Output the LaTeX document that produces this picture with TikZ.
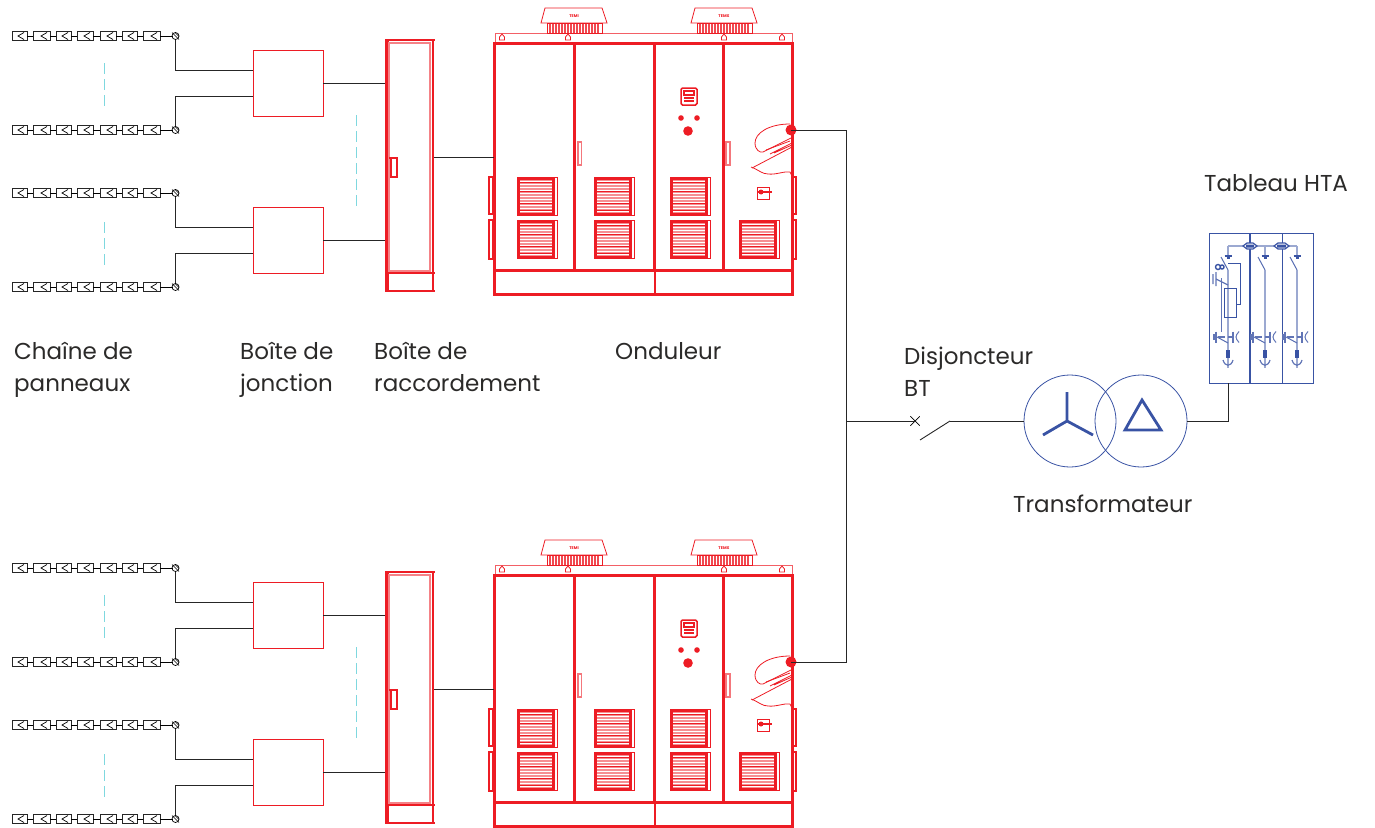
\documentclass[tikz,border=0pt]{standalone}
\usepackage{fontspec}
\setmainfont{Poppins}
\usepackage{xcolor}
\usetikzlibrary{calc}
\definecolor{PVred}{HTML}{ED1C24}
\definecolor{PVblue}{HTML}{3953A4}
\definecolor{PVcyan}{HTML}{7FD8DF}
\definecolor{PVtext}{HTML}{2B2A29}

\tikzset{
  wire/.style={draw=black!85, line width=0.9pt},
  redthin/.style={draw=PVred, line width=0.8pt},
  redmid/.style={draw=PVred, line width=1.5pt},
  redthick/.style={draw=PVred, line width=3pt},
  bluefeed/.style={draw=PVblue!50, line width=2pt},
  bluethick/.style={draw=PVblue, line width=2.8pt},
  dashcut/.style={draw=PVcyan, line width=1pt, dash pattern=on 11pt off 5pt},
  junctionbox/.style={rectangle, draw=PVred, line width=0.8pt, minimum width=70pt, minimum height=66pt, inner sep=0pt},
  txt/.style={font=\fontsize{23}{32}\selectfont, text=PVtext, align=left, anchor=north west, inner sep=0pt},
  panelstring/.pic={
    \foreach \px/\pw in {0/15,21/17,44/15,65/16,88/16,110/15,131/17}{
      \draw[black!85, line width=0.9pt] (\px,-4.5) rectangle ++(\pw,9);
      \draw[black, line width=0.7pt] (\px+\pw-3,-3.5) -- (\px+\pw-9,0) -- (\px+\pw-3,3.5);
    }
    \foreach \px/\qx in {15/21,38/44,59/65,81/88,104/110,125/131,148/161}{
      \draw[black, line width=0.8pt] (\px,0) -- (\qx,0);
    }
    \node[circle, draw=black, line width=0.7pt, minimum size=7pt, inner sep=0pt] (-out) at (163.5,0) {};
    \draw[black, line width=0.6pt] (160,-3.5) -- (167,3.5) (163,-3.5) -- (167,0.5);
  },
  grille/.pic={
    \foreach \gy in {3,6,...,36}{
      \draw[PVred!50, line width=1.2pt] (3,\gy) -- (36,\gy);
    }
    \foreach \gy in {5,14,26,33}{
      \draw[PVred, line width=0.7pt] (3,\gy) -- (36,\gy);
    }
    \draw[PVred, line width=3pt] (1,1) rectangle (36,37);
    \draw[redthin, line width=1pt] (36,0) -- (40,0) -- (40,38) -- (36,38);
  },
  fan/.pic={
    \draw[redthin] (3,0) -- (60,0) -- (65,15) -- (-1,15) -- cycle;
    \node[font=\fontsize{4}{4}\selectfont\bfseries, text=PVred, inner sep=0pt] (-tag) at (32,8) {#1};
    \draw[redthin] (5,15) rectangle (60,25);
    \foreach \fx in {8,11,...,58}{
      \draw[PVred!80, line width=1.1pt] (\fx,16) -- (\fx,25);
    }
  },
  hook/.pic={
    \draw[PVred, line width=0.8pt] (0,0) -- (2.5,-3) -- (5,0) -- (5,3) -- (0,3) -- cycle;
  },
  inverter/.pic={
    \draw[PVred!70, line width=1pt] (1,33) rectangle (298,43);
    \pic at (5.5,37) {hook};
    \pic at (71.5,37) {hook};
    \pic at (227.5,37) {hook};
    \pic at (285.5,37) {hook};
    \pic (-fana) at (48,8) {fan={TEMI}};
    \pic (-fanb) at (198,8) {fan={TEMX}};
    \draw[redthick] (0,43) rectangle (298,270);
    \foreach \dx in {80,160,229}{
      \draw[redthick] (\dx,43) -- (\dx,270);
    }
    \draw[redthick] (0,270) rectangle (298,294);
    \draw[redmid] (161,270) -- (161,294);
    \foreach \gx in {23,100,176}{
      \pic at (\gx,177) {grille};
      \pic at (\gx,220) {grille};
    }
    \pic at (245,220) {grille};
    \foreach \hx in {-5,298}{
      \draw[PVred, line width=2pt] (\hx,177) rectangle ++(4,37);
      \draw[PVred, line width=2pt] (\hx,220) rectangle ++(4,39);
    }
    \draw[PVred!60, line width=1.2pt] (84,142) rectangle ++(3.5,23);
    \draw[PVred!60, line width=1.2pt] (232,142) rectangle ++(4,23);
    % control panel
    \draw[redmid, rounded corners=1.5pt] (187,88) rectangle ++(16,17);
    \draw[redmid] (190,91) rectangle (200,95);
    \draw[PVred, line width=1.3pt] (190,98) -- (200,98) (190,101) -- (200,101);
    \fill[PVred] (187,118) circle (2.8pt) (203,118) circle (2.8pt) (194,131) circle (4.8pt);
    % cable entry
    \draw[redthin] (296,124) .. controls (275,124) and (261,133) .. (261,143)
      .. controls (261,150) and (266,153) .. (269,152) -- (297,138);
    \draw[redthin] (272,150) -- (296,141) (276,154) -- (298,143) (280,153) -- (298,145);
    \draw[redthin] (258,168) -- (298,147);
    \draw[redthin] (257,167) .. controls (265,170) and (268,174) .. (274,174)
      .. controls (282,175) and (290,171) .. (296,172) -- (298,176);
    \draw[redthin] (263,187) rectangle ++(12,12);
    \draw[PVred, line width=1.6pt] (264,192) -- (278,192);
    \fill[PVred] (267,192) circle (2.5pt);
    \node[circle, fill=PVred, minimum size=11pt, inner sep=0pt] (-ac) at (297,130) {};
    \coordinate (-dc) at (0,157);
  },
  field/.pic={
    \pic (-s1) at (12,36) {panelstring};
    \pic (-s2) at (12,130) {panelstring};
    \pic (-s3) at (12,193) {panelstring};
    \pic (-s4) at (12,287) {panelstring};
    \draw[dashcut] (104,63) -- (104,108);
    \draw[dashcut] (104,222) -- (104,266);
    \draw[dashcut] (356,115) -- (356,208);
    \node[junctionbox] (-j1) at (288,83) {};
    \node[junctionbox] (-j2) at (288,240) {};
    \draw[wire] (-s1-out.south) |- ([yshift=13pt]-j1.west);
    \draw[wire] (-s2-out.north) |- ([yshift=-13pt]-j1.west);
    \draw[wire] (-s3-out.south) |- ([yshift=13pt]-j2.west);
    \draw[wire] (-s4-out.north) |- ([yshift=-13pt]-j2.west);
    % connection box
    \node[rectangle, draw=PVred, line width=2pt, minimum width=47pt, minimum height=251pt, inner sep=0pt] (-rb) at (409.5,165.5) {};
    \draw[PVred, line width=3.5pt] (387,40) -- (387,291);
    \draw[PVred!55, line width=1.2pt] (389,43) rectangle (430,271);
    \draw[redmid] (386,273) -- (435,273) (433,291) -- (435,291) (433,40) -- (435,40);
    \draw[PVred, line width=2pt] (391,158) rectangle ++(6,19);
    \draw[PVred, line width=1.6pt] (389,158) -- (398,158);
    \draw[wire] (-j1.east) -- (-j1.east -| -rb.west);
    \draw[wire] (-j2.east) -- (-j2.east -| -rb.west);
    \pic (-inv) at (494,0) {inverter};
    \draw[wire] (-rb.east |- -inv-dc) -- (-inv-dc);
  },
  feeder/.pic={
    \draw[bluefeed] (0,0) -- (0,9);
    \draw[PVblue, line width=1.2pt] (-3.5,10) -- (3.5,10) (-1.5,12) -- (1.5,12);
    \draw[PVblue!85, line width=1pt] (-7,11) -- (0,24);
    \draw[bluefeed] (0,24) -- (0,122);
    \draw[PVblue!85, line width=1pt] (-11,91) -- (0,97);
    \draw[PVblue!80, line width=1.3pt] (-12,85.5) -- (-12,96.5) (-14,88) -- (-14,94) (-10,91) -- (-3,91);
    \draw[PVblue!80, line width=1.3pt] (0,91) -- (5,91) (5,85.5) -- (5,96.5);
    \draw[PVblue!80, line width=1pt] (11,85.5) .. controls (7,90) and (7,92) .. (11,96.5);
    \draw[PVblue, line width=4.5pt] (0,104) -- (0,112);
    \draw[PVblue!80, line width=1.2pt] (-5,114) .. controls (-3,121) and (3,121) .. (5,114);
  },
}

\begin{document}
\begin{tikzpicture}[x=1pt,y=-1pt]
  \useasboundingbox (0,0) rectangle (1375,827);

  \pic (fa) at (0,0) {field};
  \pic (fb) at (0,532) {field};
  \draw[redthick] (654,575) rectangle (723,802);

  \node[txt] (lblstring) at (14,342) {Chaîne de\\panneaux};
  \node[txt] (lbljunction) at (240,342) {Boîte de\\jonction};
  \node[txt] (lblbox) at (374,342) {Boîte de\\raccordement};
  \node[txt] (lblinv) at (615,342) {Onduleur};
  \node[txt] (lblbreaker) at (904,347) {Disjoncteur\\BT};
  \node[txt] (lbltrans) at (1013,495) {Transformateur};
  \node[txt] (lblhta) at (1204,174) {Tableau HTA};

  % LV side
  \coordinate (bus) at (846,421);
  \draw[wire] (fa-inv-ac.center) -| (bus);
  \draw[wire] (fb-inv-ac.center) -| (bus);
  \node[inner sep=0pt, minimum size=9pt] (brk) at (915,421) {};
  \draw[black, line width=0.7pt] (brk.north west) -- (brk.south east) (brk.north east) -- (brk.south west);
  \draw[wire] (bus) -- (brk.center);
  \coordinate (swa) at (920,440);
  \coordinate (swb) at (950,421);
  \draw[wire] (swa) -- (swb);

  % transformer
  \node[circle, draw=PVblue, line width=0.8pt, minimum size=92pt, inner sep=0pt] (tra) at (1070,421) {};
  \node[circle, draw=PVblue, line width=0.8pt, minimum size=92pt, inner sep=0pt] (trb) at (1141,421) {};
  \draw[wire] (swb) -- (tra.west);
  \draw[bluethick] (1067,392) -- (1067,421) (1067,421) -- (1043,435) (1067,421) -- (1093,435);
  \draw[bluethick] (1142,400) -- (1161,430) -- (1125,430) -- cycle;

  % HTA switchboard
  \node[rectangle, draw=PVblue, line width=0.9pt, minimum width=104pt, minimum height=150pt, inner sep=0pt] (hta) at (1261,308) {};
  \draw[PVblue, line width=1.6pt] (1250,233) -- (1250,383);
  \draw[PVblue, line width=0.9pt] (1282,233) -- (1282,383);
  \draw[wire] (trb.east) -| (1228,383);
  \draw[bluefeed] (1228,246) -- (1297,246);
  \pic at (1228,246) {feeder};
  \pic at (1265,246) {feeder};
  \pic at (1297,246) {feeder};
  \draw[PVblue, line width=1.2pt, fill=white] (1243,246) -- (1247,243) -- (1253,243) -- (1257,246) -- (1253,249) -- (1247,249) -- cycle;
  \draw[PVblue, line width=1.2pt, fill=white] (1274,246) -- (1278,243) -- (1285,243) -- (1289,246) -- (1285,249) -- (1278,249) -- cycle;
  \fill[PVblue] (1246,244.5) rectangle (1254,247.5) (1277,244.5) rectangle (1286,247.5);
  \draw[PVblue, line width=1pt] (1228,263) -- (1240,263) -- (1240,304) -- (1236,304);
  \draw[PVblue, line width=1pt] (1224,288) rectangle (1236,317);
  \draw[PVblue, line width=1.4pt] (1218,267) circle (2.5pt) (1222,267) circle (2pt);
  \draw[PVblue!80, line width=1pt] (1221,278) -- (1221,332);
  \draw[PVblue!80, line width=1.3pt] (1213,274) -- (1213,284) (1216,272) -- (1216,286) (1216,279) -- (1228,285);
\end{tikzpicture}
\end{document}
